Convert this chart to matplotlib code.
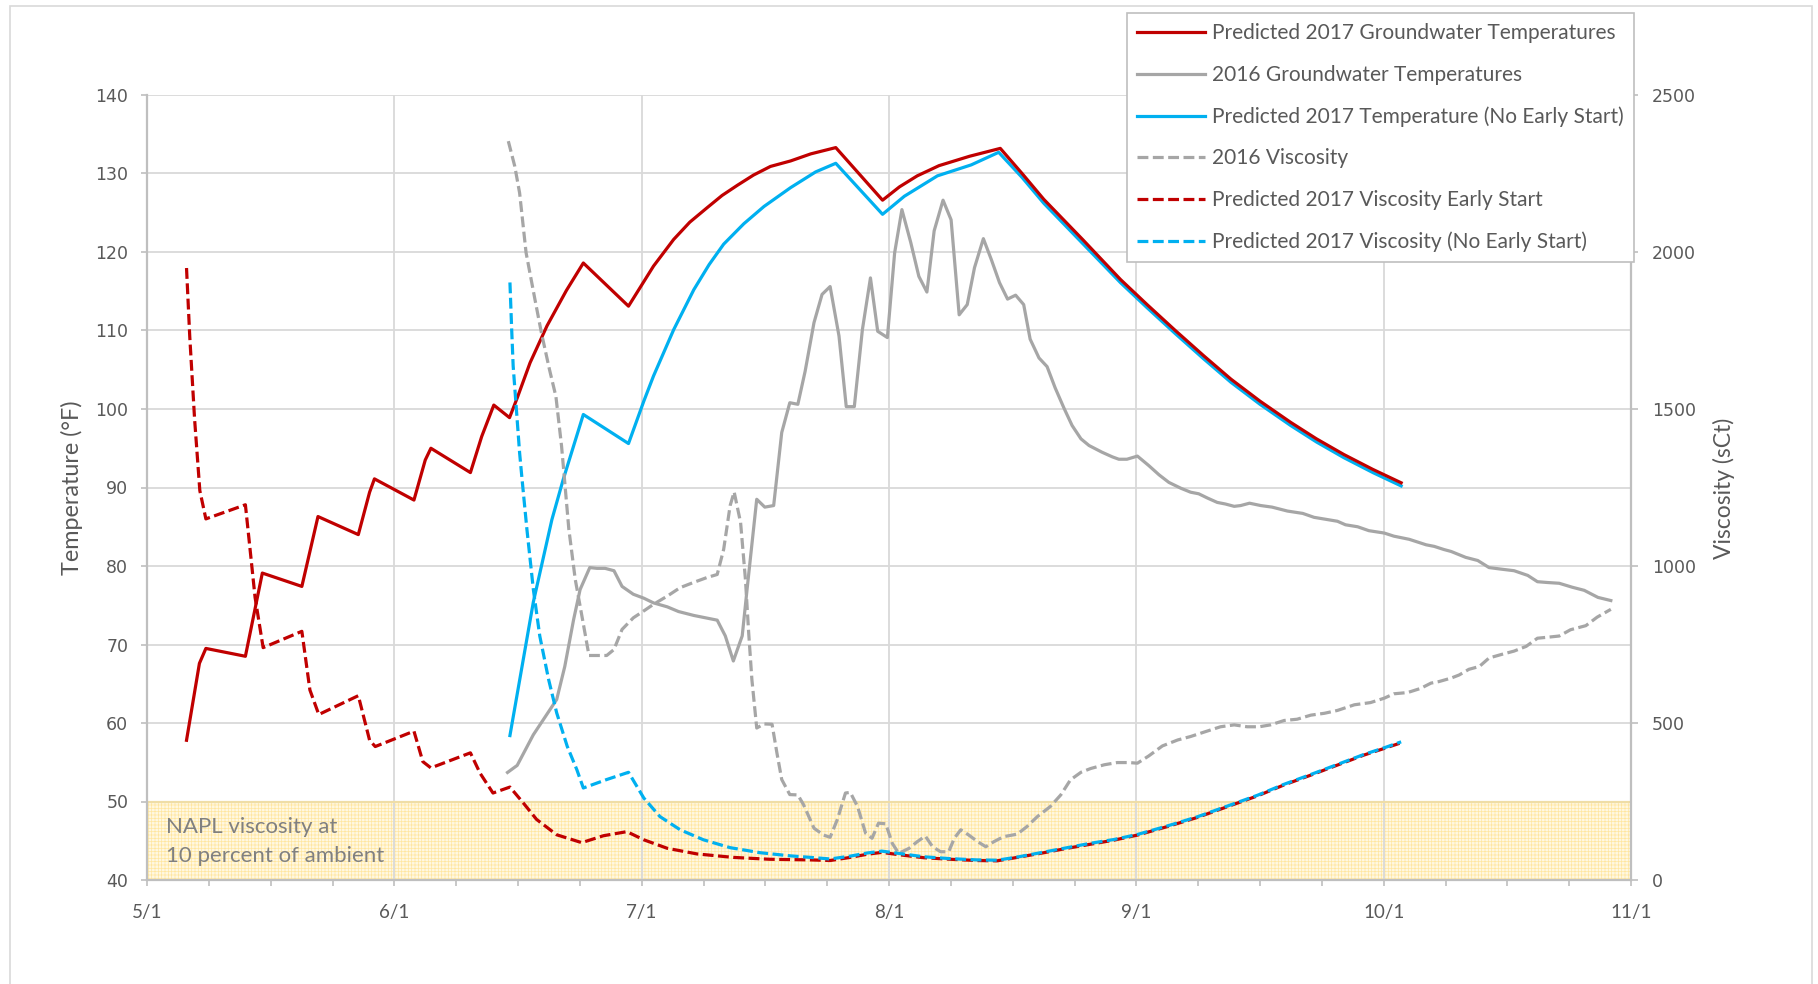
import matplotlib
matplotlib.use("Agg")
import matplotlib.pyplot as plt
from matplotlib.patches import Rectangle

# ---------------------------------------------------------------- data
# x values are days after 5/1 (season axis runs 5/1 .. 11/1)
month_labels = ["5/1", "6/1", "7/1", "8/1", "9/1", "10/1", "11/1"]
season_days = 184

# Predicted 2017 groundwater temperatures (early start), deg F
early_temp_day = [4.9, 6.5, 7.3, 12.2, 14.3, 19.2, 21.2, 26.2, 27.6, 28.2, 33.1, 34.5,
                  35.2, 40.1, 41.5, 43.0, 44.95, 45.9, 47.5, 49.6, 52.0, 54.1, 59.7,
                  62.8, 65.3, 67.3, 69.4, 71.3, 73.2, 75.2, 77.3, 79.8, 82.3, 85.4,
                  91.2, 93.3, 95.5, 98.2, 102.0, 105.8, 108.5, 111.2, 116.0, 120.7,
                  124.0, 127.5, 131.0, 134.4, 138.0, 141.8, 145.0, 148.4, 152.0, 155.5]
early_temp_f = [57.8, 67.6, 69.5, 68.5, 79.1, 77.4, 86.3, 84.0, 89.4, 91.1, 88.4, 93.5,
                95.0, 91.9, 96.5, 100.5, 98.9, 101.4, 105.9, 110.6, 115.1, 118.6, 113.1,
                118.2, 121.6, 123.8, 125.6, 127.2, 128.5, 129.8, 130.9, 131.6, 132.5, 133.3,
                126.6, 128.3, 129.7, 131.0, 132.2, 133.2, 130.0, 126.7, 121.6, 116.5,
                113.3, 110.0, 106.8, 103.8, 101.0, 98.3, 96.2, 94.2, 92.3, 90.6]

# 2016 groundwater temperatures, deg F
temp2016_day = [44.7, 45.9, 47.9, 50.8, 51.8, 52.9, 53.7, 54.9, 55.8, 56.8, 57.9, 58.9,
                60.3, 61.6, 62.8, 64.5, 65.9, 67.8, 70.7, 71.7, 72.7, 73.8, 74.4, 75.6,
                76.6, 77.7, 78.7, 79.7, 80.7, 81.6, 82.7, 83.7, 84.7, 85.8, 86.7, 87.7,
                88.7, 89.7, 90.6, 91.8, 92.7, 93.6, 94.7, 95.7, 96.7, 97.6, 98.7, 99.7,
                100.7, 101.7, 102.6, 103.7, 104.7, 105.7, 106.7, 107.7, 108.7, 109.5,
                110.6, 111.6, 112.6, 113.7, 114.7, 115.8, 116.8, 118.4, 119.7, 120.5,
                121.5, 122.8, 124.2, 125.5, 126.7, 128.2, 129.4, 130.4, 131.5, 132.7,
                133.7, 134.8, 135.6, 136.7, 138.1, 139.5, 141.4, 143.3, 144.7, 147.6,
                148.6, 150.1, 151.5, 153.4, 154.6, 156.5, 158.6, 159.6, 160.8, 161.7,
                163.5, 165.0, 166.4, 167.9, 169.5, 171.2, 172.4, 173.6, 175.1, 176.7,
                178.2, 179.9, 181.5]
temp2016_f = [53.7, 54.6, 58.5, 63.0, 67.2, 73.2, 77.0, 79.8, 79.7, 79.7, 79.4, 77.4,
              76.4, 75.9, 75.3, 74.8, 74.2, 73.7, 73.1, 71.1, 67.9, 71.1, 77.0, 88.5,
              87.5, 87.7, 97.0, 100.8, 100.6, 104.8, 111.0, 114.6, 115.6, 109.3, 100.3, 100.3,
              110.1, 116.7, 109.9, 109.1, 119.9, 125.4, 121.2, 116.9, 114.9, 122.7, 126.6, 124.1,
              112.0, 113.3, 118.0, 121.7, 119.0, 116.1, 114.0, 114.5, 113.3, 108.9,
              106.5, 105.4, 102.7, 100.1, 97.9, 96.2, 95.35, 94.5, 93.9, 93.6,
              93.6, 94.0, 92.8, 91.6, 90.65, 89.9, 89.4, 89.2, 88.65, 88.1,
              87.9, 87.6, 87.7, 88.0, 87.7, 87.5, 87.0, 86.7, 86.2, 85.7,
              85.25, 85.0, 84.5, 84.2, 83.8, 83.4, 82.7, 82.5, 82.1, 81.85,
              81.1, 80.7, 79.8, 79.6, 79.4, 78.8, 78.0, 77.9, 77.8, 77.3,
              76.9, 76.0, 75.6]

# Predicted 2017 temperature without early start, deg F
late_temp_day = [45.0, 47.9, 50.2, 51.6, 54.1, 59.7, 61.6, 62.8, 65.3, 67.8, 69.7, 71.5,
                 74.0, 76.5, 79.8, 82.9, 85.4, 91.2, 93.9, 98.0, 102.2, 105.6, 108.5,
                 111.2, 116.0, 120.7, 124.0, 127.5, 131.0, 134.4, 138.0, 141.8, 145.0,
                 148.4, 152.0, 155.5]
late_temp_f = [58.4, 75.4, 85.9, 91.0, 99.3, 95.6, 101.0, 104.2, 110.1, 115.2, 118.4, 121.0,
               123.6, 125.8, 128.2, 130.2, 131.3, 124.8, 127.1, 129.7, 131.1, 132.7, 129.5,
               126.2, 121.1, 116.1, 112.9, 109.6, 106.4, 103.4, 100.6, 97.9, 95.8,
               93.8, 91.9, 90.2]

# 2016 viscosity, sCt
visc2016_day = [44.8, 45.6, 46.2, 47.0, 48.1, 48.9, 49.9, 50.7, 51.4, 51.8, 52.3, 53.1,
                54.0, 54.8, 56.0, 57.0, 57.9, 58.9, 60.3, 61.6, 62.8, 64.5, 66.1, 67.8,
                69.4, 70.7, 71.5, 72.3, 72.8, 73.6, 74.2, 74.6, 75.0, 75.6, 76.5, 77.5,
                78.1, 78.7, 79.7, 80.7, 81.4, 82.7, 83.9, 84.7, 85.6, 86.6, 87.2, 88.1,
                89.1, 89.9, 90.7, 91.6, 92.4, 93.2, 94.5, 95.5, 96.5, 97.4, 98.4, 99.4,
                100.1, 100.9, 101.9, 103.0, 104.0, 105.0, 106.2, 107.9, 109.1, 110.4,
                112.0, 113.3, 114.5, 115.8, 117.0, 118.7, 120.3, 121.8, 122.8, 124.2,
                125.9, 127.8, 129.4, 131.3, 133.1, 134.8, 136.4, 137.9, 139.3, 141.0,
                142.6, 144.3, 146.0, 147.6, 149.7, 151.7, 153.4, 154.6, 156.3, 157.9,
                159.2, 160.2, 161.7, 162.7, 163.9, 165.2, 166.4, 167.9, 169.5, 171.0,
                172.4, 173.6, 175.1, 176.5, 178.4, 179.8, 181.5]
visc2016_sct = [2353, 2273, 2188, 1998, 1849, 1743, 1626, 1540, 1382, 1266, 1118, 957,
                830, 715, 715, 715, 734, 798, 835, 857, 878, 904, 931, 948,
                963, 973, 1053, 1192, 1236, 1138, 957, 788, 638, 484, 497, 496,
                405, 320, 272, 271, 240, 165, 143, 136, 193, 277, 279, 234,
                149, 133, 181, 179, 117, 85, 101, 122, 140, 106, 90, 90,
                133, 160, 143, 122, 106, 122, 138, 146, 170, 202,
                234, 271, 319, 343, 355, 367, 374, 374, 372, 395,
                427, 446, 457, 473, 488, 494, 488, 488, 494, 508,
                512, 525, 531, 540, 558, 565, 579, 593, 597, 610,
                627, 632, 643, 653, 671, 680, 707, 718, 729, 744,
                770, 773, 777, 797, 810, 837, 862]

# Predicted 2017 viscosity, early start, sCt
early_visc_day = [4.9, 5.3, 5.9, 6.55, 7.3, 12.2, 12.8, 13.4, 14.4, 19.2, 20.2, 21.3,
                  26.2, 27.6, 28.3, 33.1, 34.2, 35.2, 40.1, 41.3, 42.9, 45.0, 46.7, 48.3,
                  50.8, 53.9, 56.6, 59.5, 61.6, 64.5, 68.2, 72.7, 77.2, 82.3, 84.7, 87.2,
                  89.3, 91.1, 93.4, 96.3, 99.6, 102.9, 105.4, 107.9, 110.8, 114.1, 117.0,
                  119.9, 122.8, 126.5, 130.2, 133.9, 137.7, 141.0, 144.3, 147.6, 150.9,
                  153.4, 155.5]
early_visc_sct = [1949, 1731, 1468, 1240, 1150, 1195, 1048, 900, 740, 792, 605, 527,
                  587, 445, 425, 474, 377, 357, 405, 340, 277, 296, 244, 193,
                  144, 119, 141, 154, 128, 101, 83, 72, 66, 64, 62, 72,
                  82, 88, 80, 71, 66, 62, 61, 72, 85, 101, 114,
                  127, 143, 170, 199, 233, 268, 303, 334, 366, 398,
                  419, 437]

# Predicted 2017 viscosity, no early start, sCt
late_visc_day = [45.0, 45.2, 45.4, 45.8, 46.2, 46.5, 47.1, 47.9, 48.7, 49.8, 50.8, 52.1,
                 53.3, 54.1, 57.0, 59.7, 61.6, 63.6, 66.1, 69.0, 72.3, 76.0, 79.7, 82.3,
                 84.7, 87.2, 89.3, 91.1, 93.4, 96.3, 99.6, 102.9, 105.4, 107.9, 110.8,
                 114.1, 117.0, 119.9, 122.8, 126.5, 130.2, 133.9, 137.7, 141.0, 144.3,
                 147.6, 150.9, 153.4, 155.5]
late_visc_sct = [1903, 1764, 1637, 1499, 1360, 1277, 1118, 926, 777, 638, 532, 426,
                 351, 293, 320, 343, 261, 202, 160, 128, 103, 87, 77, 72,
                 67, 76, 86, 92, 84, 74, 68, 64, 63, 73, 87,
                 103, 117, 129, 145, 172, 201, 235, 270, 305, 336,
                 368, 400, 421, 440]

# NAPL viscosity target band (deg F on the temperature axis)
band_low_f, band_high_f = 40, 50
band_text = "NAPL viscosity at\n10 percent of ambient"

series_labels = ["Predicted 2017 Groundwater Temperatures",
                 "2016 Groundwater Temperatures",
                 "Predicted 2017 Temperature (No Early Start)",
                 "2016 Viscosity",
                 "Predicted 2017 Viscosity Early Start",
                 "Predicted 2017 Viscosity (No Early Start)"]

# ---------------------------------------------------------------- style
RED = "#C00000"
BLUE = "#00B0F0"
GRAY = "#A6A6A6"
GRID = "#D9D9D9"
AXIS = "#BFBFBF"
TXT = "#595959"
LW = 2.3
DASH = (3.4, 1.4)

plt.rcParams["hatch.linewidth"] = 0.5
LABEL_FONT = ["Lato", "DejaVu Sans"]
NUM_FONT = ["DejaVu Sans"]

W, H = 1818, 984
fig = plt.figure(figsize=(W / 100, H / 100), dpi=100)
fig.patch.set_facecolor("white")

left, right, top, bottom = 147, 1631, 95, 880
ax = fig.add_axes([left / W, 1 - bottom / H, (right - left) / W, (bottom - top) / H])
ax2 = ax.twinx()

# chart frame
fig.patches.append(Rectangle((10 / W, -0.02), (1812 - 10) / W, 1 - 6 / H + 0.02,
                             transform=fig.transFigure, fill=False,
                             edgecolor=GRID, linewidth=1.2, zorder=0))

# axes ranges and ticks
ax.set_xlim(0, season_days)
ax.set_ylim(40, 140)
ax2.set_ylim(0, 2500)
n_months = len(month_labels) - 1
major_x = [i * season_days / n_months for i in range(n_months + 1)]
minor_x = [i * season_days / (n_months * 4) for i in range(n_months * 4 + 1)]
ax.set_xticks(major_x)
ax.set_xticks(minor_x, minor=True)
ax.set_xticklabels(month_labels)
ax.set_yticks(range(40, 141, 10))
ax2.set_yticks(range(0, 2501, 500))

ax.set_axisbelow(True)
ax.grid(True, which="major", color=GRID, linewidth=1.3)

ax.spines["top"].set_visible(False)
ax2.spines["top"].set_visible(False)
ax.spines["right"].set_visible(False)
ax2.spines["left"].set_visible(False)
ax2.spines["bottom"].set_visible(False)
for sp in (ax.spines["left"], ax.spines["bottom"], ax2.spines["right"]):
    sp.set_color(AXIS)
    sp.set_linewidth(1.6)

ax.tick_params(axis="x", which="both", direction="out", length=4.5, width=1.2,
               color=AXIS, pad=13, labelsize=13.5, labelcolor=TXT)
ax.tick_params(axis="y", direction="out", length=4.5, width=1.2, color=AXIS,
               pad=9, labelsize=12.5, labelcolor=TXT)
ax2.tick_params(axis="y", direction="out", length=5, width=1.2, color=AXIS,
                pad=10, labelsize=12.5, labelcolor=TXT)
for t in ax.get_xticklabels():
    t.set_fontfamily(LABEL_FONT)
for t in ax.get_yticklabels() + ax2.get_yticklabels():
    t.set_fontfamily(NUM_FONT)

# target band
ax.axhspan(band_low_f, band_high_f, facecolor="#FFF8E1", edgecolor="#FFE6A0",
           hatch="+++++", linewidth=0, zorder=0.3)
ax.axhline(band_high_f, color="#EFDDA6", linewidth=1.6, zorder=0.6)
ax.axhline(band_low_f, color="#DCC58C", linewidth=1.8, zorder=0.6)
ax.text(2.3, (band_low_f + band_high_f) / 2 - 0.1, band_text, fontsize=16,
        color="#808080", family=LABEL_FONT, va="center", ha="left",
        linespacing=1.55, zorder=1)

# temperature series
l1, = ax.plot(early_temp_day, early_temp_f, color=RED, lw=LW, zorder=3)
l2, = ax.plot(temp2016_day, temp2016_f, color=GRAY, lw=LW, zorder=2)
l3, = ax.plot(late_temp_day, late_temp_f, color=BLUE, lw=LW, zorder=2.5)

# viscosity series
l4, = ax2.plot(visc2016_day, visc2016_sct, color=GRAY, lw=LW, dashes=DASH, zorder=2)
l5, = ax2.plot(early_visc_day, early_visc_sct, color=RED, lw=LW, dashes=DASH, zorder=3)
l6, = ax2.plot(late_visc_day, late_visc_sct, color=BLUE, lw=LW, dashes=DASH, zorder=4)

# axis titles
fig.text(72 / W, 1 - 488 / H, "Temperature (°F)", rotation=90, ha="center", va="center",
         fontsize=16.8, color=TXT, family=LABEL_FONT)
fig.text(1724 / W, 1 - 488 / H, "Viscosity (sCt)", rotation=90, ha="center", va="center",
         fontsize=16.5, color=TXT, family=LABEL_FONT)

# legend
leg = fig.legend([l1, l2, l3, l4, l5, l6], series_labels,
                 loc="upper left", bbox_to_anchor=(1127 / W, 1 - 13 / H),
                 bbox_transform=fig.transFigure, borderaxespad=0,
                 prop={"family": LABEL_FONT, "size": 15}, labelcolor=TXT,
                 handlelength=3.25, handletextpad=0.33, borderpad=0.5,
                 labelspacing=1.03, fancybox=False, framealpha=1,
                 edgecolor=AXIS)
leg.get_frame().set_linewidth(1.2)

fig.savefig("out.png", dpi=100, facecolor="white")
